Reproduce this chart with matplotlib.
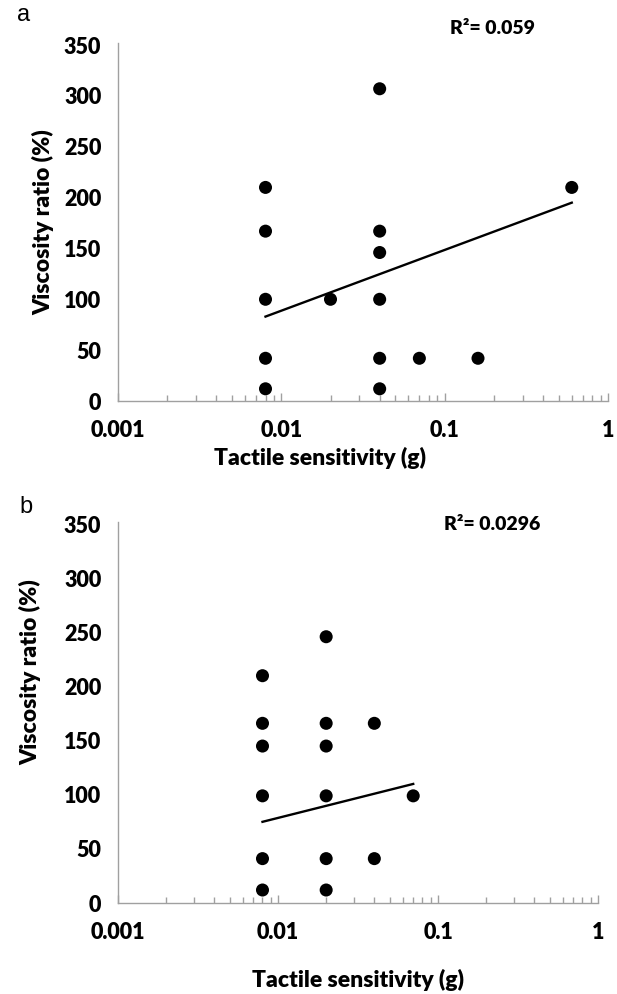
import numpy as np
import matplotlib
matplotlib.use("Agg")
import matplotlib.pyplot as plt
from matplotlib.ticker import LogLocator, FixedLocator, NullFormatter

# Panel a data
a_x = [0.008, 0.008, 0.008, 0.008, 0.008, 0.02, 0.04, 0.04, 0.04, 0.04, 0.04, 0.04, 0.07, 0.16, 0.6]
a_y = [210, 167, 100, 42, 12, 100, 307, 167, 146, 100, 42, 12, 42, 42, 210]
a_trend_x = [0.008, 0.6]
a_trend_y = [83, 195]
a_r2 = "R²= 0.059"

# Panel b data
b_x = [0.008, 0.008, 0.008, 0.008, 0.008, 0.008, 0.02, 0.02, 0.02, 0.02, 0.02, 0.02, 0.04, 0.04, 0.07]
b_y = [210, 166, 145, 99, 41, 12, 246, 166, 145, 99, 41, 12, 166, 41, 99]
b_trend_x = [0.008, 0.07]
b_trend_y = [75, 110]
b_r2 = "R²= 0.0296"

x_ticks = [0.001, 0.01, 0.1, 1]
x_ticklabels = ["0.001", "0.01", "0.1", "1"]
y_ticks = [0, 50, 100, 150, 200, 250, 300, 350]

plt.rcParams['font.family'] = ['Lato', 'DejaVu Sans']

W, H = 617, 994
fig = plt.figure(figsize=(W / 100, H / 100), dpi=100)

def px_axes(left, right, top, bottom):
    return [left / W, 1 - bottom / H, (right - left) / W, (bottom - top) / H]

axis_col = '#a0a0a0'

def style(ax, xs, ys, tx, ty, r2, r2pos):
    ax.scatter(xs, ys, s=88, color='black', zorder=3, edgecolors='none')
    ax.plot(tx, ty, color='black', lw=1.7, zorder=2)
    ax.set_xscale('log')
    ax.set_xlim(0.001, 1)
    ax.set_ylim(0, 352)
    for s in ['top', 'right']:
        ax.spines[s].set_visible(False)
    for s in ['left', 'bottom']:
        ax.spines[s].set_color(axis_col)
        ax.spines[s].set_linewidth(1.0)
    ax.xaxis.set_major_locator(FixedLocator(x_ticks))
    ax.set_xticklabels(x_ticklabels)
    ax.xaxis.set_minor_locator(LogLocator(base=10, subs=np.arange(2, 10)))
    ax.xaxis.set_minor_formatter(NullFormatter())
    ax.tick_params(axis='x', which='major', direction='in', length=6, width=1.0,
                   color=axis_col, pad=14, labelsize=15.5)
    ax.tick_params(axis='x', which='minor', direction='in', length=4, width=1.0,
                   color=axis_col)
    ax.set_yticks(y_ticks)
    ax.tick_params(axis='y', which='both', length=0, pad=12, labelsize=15.5)
    for lab in ax.get_xticklabels() + ax.get_yticklabels():
        lab.set_fontweight('heavy')
    ax.text(r2pos[0], r2pos[1], r2, transform=ax.transAxes, fontsize=14,
            fontweight='heavy', ha='center', va='center')

ax1 = fig.add_axes(px_axes(118, 608, 43, 401))
style(ax1, a_x, a_y, a_trend_x, a_trend_y, a_r2,
      ((492 - 118) / (608 - 118), (401 - 28) / (401 - 43)))
ax2 = fig.add_axes(px_axes(118, 598, 522, 903))
style(ax2, b_x, b_y, b_trend_x, b_trend_y, b_r2,
      ((492 - 118) / (598 - 118), (903 - 524) / (903 - 522)))

fig.text(24 / W, 1 - 15 / H, "a", fontsize=17, ha='center', va='center',
         family=['Liberation Sans', 'DejaVu Sans'])
fig.text(26 / W, 1 - 507 / H, "b", fontsize=17, ha='center', va='center',
         family=['Liberation Sans', 'DejaVu Sans'])

fig.text(320 / W, 1 - 458 / H, "Tactile sensitivity (g)", fontsize=16.5,
         fontweight='heavy', ha='center', va='center')
fig.text(358 / W, 1 - 980 / H, "Tactile sensitivity (g)", fontsize=16.5,
         fontweight='heavy', ha='center', va='center')
fig.text(43 / W, 1 - 222 / H, "Viscosity ratio (%)", fontsize=16.5,
         fontweight='heavy', ha='center', va='center', rotation=90)
fig.text(30 / W, 1 - 672 / H, "Viscosity ratio (%)", fontsize=16.5,
         fontweight='heavy', ha='center', va='center', rotation=90)

fig.savefig("out.png", dpi=100, facecolor='white')
